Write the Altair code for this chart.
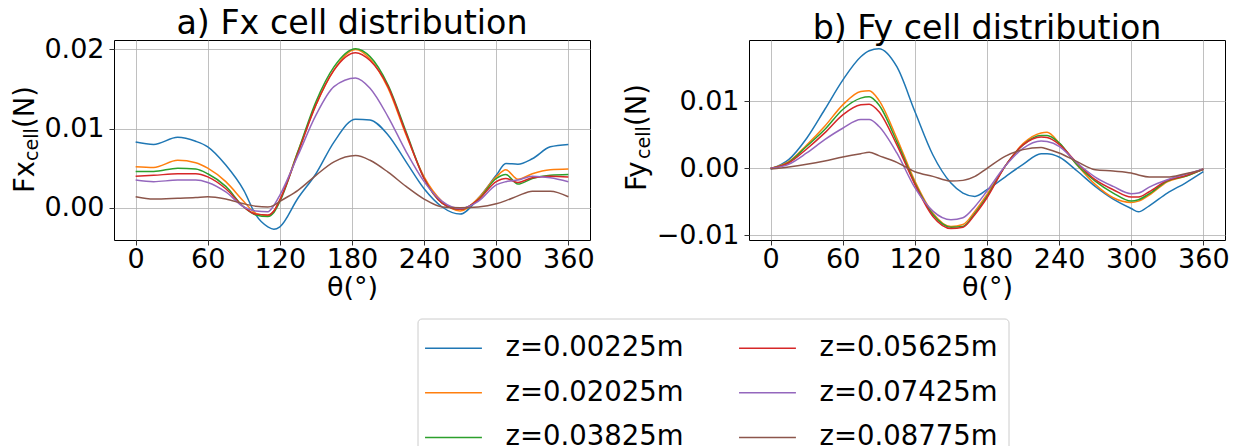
import altair as alt
import pandas as pd

labels = ["z=0.00225m", "z=0.02025m", "z=0.03825m", "z=0.05625m", "z=0.07425m", "z=0.08775m"]
colors = ["#1f77b4", "#ff7f0e", "#2ca02c", "#d62728", "#9467bd", "#8c564b"]

theta_fx = [0, 15, 35, 50, 60, 75, 90, 100, 110, 115, 120, 135, 150, 165, 183, 195, 210, 225, 240, 255, 270, 285, 300, 308, 318, 330, 345, 360]
fx_1 = [0.0083, 0.0080, 0.0089, 0.0084, 0.0077, 0.0054, 0.0022, -0.0009, -0.0024, -0.0027, -0.0024, 0.0012, 0.0043, 0.0083, 0.0112, 0.0111, 0.0092, 0.0058, 0.0024, 0.0001, -0.0008, 0.0012, 0.0041, 0.0056, 0.0055, 0.0062, 0.0077, 0.0080]
fx_2 = [0.0052, 0.0051, 0.0060, 0.0057, 0.0050, 0.0033, 0.0008, -0.0007, -0.0010, -0.0004, 0.0010, 0.0071, 0.0130, 0.0174, 0.0200, 0.0188, 0.0151, 0.0092, 0.0039, 0.0008, -0.0004, 0.0012, 0.0039, 0.0048, 0.0036, 0.0043, 0.0048, 0.0049]
fx_3 = [0.0046, 0.0046, 0.0050, 0.0049, 0.0043, 0.0027, 0.0001, -0.0009, -0.0011, -0.0006, 0.0008, 0.0071, 0.0134, 0.0178, 0.0201, 0.0191, 0.0155, 0.0096, 0.0037, 0.0006, -0.0002, 0.0010, 0.0037, 0.0042, 0.0030, 0.0037, 0.0041, 0.0042]
fx_4 = [0.0040, 0.0041, 0.0043, 0.0043, 0.0039, 0.0024, 0.0001, -0.0008, -0.0009, -0.0004, 0.0010, 0.0069, 0.0130, 0.0174, 0.0196, 0.0186, 0.0153, 0.0094, 0.0037, 0.0006, -0.0002, 0.0010, 0.0033, 0.0037, 0.0032, 0.0038, 0.0040, 0.0039]
fx_5 = [0.0035, 0.0033, 0.0035, 0.0035, 0.0032, 0.0020, 0.0001, -0.0004, -0.0005, 0.0003, 0.0016, 0.0066, 0.0117, 0.0153, 0.0164, 0.0151, 0.0115, 0.0071, 0.0033, 0.0008, -0.0001, 0.0008, 0.0029, 0.0033, 0.0035, 0.0040, 0.0038, 0.0033]
fx_6 = [0.0014, 0.0011, 0.0012, 0.0013, 0.0014, 0.0011, 0.0005, 0.0002, 0.0001, 0.0003, 0.0008, 0.0022, 0.0041, 0.0058, 0.0066, 0.0060, 0.0045, 0.0027, 0.0011, 0.0001, 0.0000, 0.0001, 0.0005, 0.0009, 0.0015, 0.0021, 0.0021, 0.0014]

theta_fy = [0, 15, 30, 45, 60, 75, 82, 90, 105, 120, 135, 150, 160, 170, 180, 195, 210, 225, 230, 240, 255, 270, 285, 300, 306, 315, 330, 345, 360]
fy_1 = [-0.0001, 0.0013, 0.0045, 0.0088, 0.0132, 0.0167, 0.0176, 0.0179, 0.0152, 0.0085, 0.0020, -0.0022, -0.0037, -0.0042, -0.0032, -0.0013, 0.0006, 0.0022, 0.0022, 0.0017, -0.0004, -0.0027, -0.0046, -0.0060, -0.0065, -0.0056, -0.0037, -0.0022, -0.0005]
fy_2 = [0.0000, 0.0010, 0.0035, 0.0063, 0.0095, 0.0115, 0.0116, 0.0102, 0.0045, -0.0019, -0.0067, -0.0087, -0.0084, -0.0064, -0.0039, 0.0003, 0.0037, 0.0053, 0.0054, 0.0038, 0.0005, -0.0024, -0.0044, -0.0051, -0.0049, -0.0040, -0.0020, -0.0012, -0.0001]
fy_3 = [0.0000, 0.0009, 0.0033, 0.0058, 0.0088, 0.0105, 0.0107, 0.0095, 0.0040, -0.0022, -0.0069, -0.0088, -0.0087, -0.0067, -0.0042, 0.0003, 0.0035, 0.0049, 0.0049, 0.0038, 0.0005, -0.0019, -0.0037, -0.0049, -0.0047, -0.0038, -0.0019, -0.0012, -0.0001]
fy_4 = [0.0000, 0.0008, 0.0029, 0.0053, 0.0080, 0.0095, 0.0096, 0.0085, 0.0035, -0.0024, -0.0072, -0.0090, -0.0088, -0.0069, -0.0044, 0.0003, 0.0035, 0.0047, 0.0046, 0.0036, 0.0008, -0.0017, -0.0032, -0.0043, -0.0043, -0.0035, -0.0018, -0.0011, -0.0001]
fy_5 = [0.0000, 0.0006, 0.0023, 0.0043, 0.0060, 0.0073, 0.0073, 0.0063, 0.0023, -0.0029, -0.0064, -0.0077, -0.0074, -0.0057, -0.0034, 0.0003, 0.0030, 0.0041, 0.0040, 0.0033, 0.0008, -0.0013, -0.0027, -0.0038, -0.0037, -0.0028, -0.0017, -0.0009, -0.0001]
fy_6 = [-0.0001, 0.0002, 0.0006, 0.0011, 0.0017, 0.0022, 0.0024, 0.0019, 0.0009, -0.0005, -0.0012, -0.0019, -0.0018, -0.0012, 0.0000, 0.0018, 0.0028, 0.0031, 0.0029, 0.0023, 0.0010, -0.0002, -0.0004, -0.0007, -0.0010, -0.0013, -0.0013, -0.0008, -0.0002]

x_ticks = [0, 60, 120, 180, 240, 300, 360]
fx_ticks = [0.0, 0.01, 0.02]
fy_ticks = [-0.01, 0.0, 0.01]

FONT = "DejaVu Sans"
W, H = 476, 200


def long_df(theta, series):
    rows = []
    for lab, vals in zip(labels, series):
        for t, v in zip(theta, vals):
            rows.append({"theta": t, "val": v, "z": lab})
    return pd.DataFrame(rows)


df_fx = long_df(theta_fx, [fx_1, fx_2, fx_3, fx_4, fx_5, fx_6])
df_fy = long_df(theta_fy, [fy_1, fy_2, fy_3, fy_4, fy_5, fy_6])

color = alt.Color(
    "z:N",
    scale=alt.Scale(domain=labels, range=colors),
    legend=alt.Legend(
        title=None, orient="none", legendX=303.5, legendY=278.5, columns=2,
        symbolType="M-1.22,0H1.94", symbolSize=1296, symbolStrokeWidth=1.5,
        labelFont=FONT, labelFontSize=27.5, labelColor="black", labelLimit=400,
        labelOffset=39.5, rowPadding=11.7, columnPadding=52, padding=10.5,
        strokeColor="#cccccc", fillColor="white", cornerRadius=4,
    ),
)


def ytitle(main, sub, bx, by):
    a = alt.Chart(pd.DataFrame({"t": [main]})).mark_text(
        angle=270, align="left", baseline="alphabetic", font=FONT, fontSize=27.5, color="black"
    ).encode(text="t:N", x=alt.value(bx), y=alt.value(by))
    b = alt.Chart(pd.DataFrame({"t": [sub]})).mark_text(
        angle=270, align="left", baseline="alphabetic", font=FONT, fontSize=19, color="black"
    ).encode(text="t:N", x=alt.value(bx + 4), y=alt.value(by - 32))
    c = alt.Chart(pd.DataFrame({"t": ["(N)"]})).mark_text(
        angle=270, align="left", baseline="alphabetic", font=FONT, fontSize=27.5, color="black"
    ).encode(text="t:N", x=alt.value(bx), y=alt.value(by - 65))
    return [a, b, c]


def panel(df, title, ydom, yticks, main, bx, by):
    lines = alt.Chart(df).mark_line(strokeWidth=1.5, interpolate="monotone").encode(
        x=alt.X("theta:Q", scale=alt.Scale(domain=[-18, 378], nice=False, zero=False),
                axis=alt.Axis(values=x_ticks, title="θ(°)", format="d")),
        y=alt.Y("val:Q", scale=alt.Scale(domain=ydom, nice=False, zero=False),
                axis=alt.Axis(values=yticks, format=".2f", title=None)),
        color=color,
    )
    return alt.layer(lines, *ytitle(main, "cell", bx, by)).properties(
        width=W, height=H,
        title=alt.TitleParams(title, fontSize=33.3, font=FONT, fontWeight="normal",
                              color="black", anchor="middle", baseline="alphabetic", offset=-32),
    )


left = panel(df_fx, "a) Fx cell distribution", [-0.00407, 0.0212], fx_ticks, "Fx", -80, 153)
right = panel(df_fy, "b) Fy cell distribution", [-0.01072, 0.0192], fy_ticks, "Fy", -103, 151)

chart = alt.hconcat(left, right, spacing=28).properties(
    padding={"left": 3, "top": -2, "right": 0, "bottom": 0},
    background="white",
).configure_view(
    stroke="black", strokeWidth=1
).configure_axis(
    grid=True, gridColor="#b0b0b0", gridWidth=0.8, domain=False,
    ticks=True, tickColor="black", tickSize=5, tickWidth=0.8,
    labelFont=FONT, labelFontSize=27, labelColor="black", labelPadding=5,
    titleFont=FONT, titleFontSize=27, titleFontWeight="normal", titleColor="black",
).configure_axisX(
    labelPadding=1, titlePadding=2,
)

chart.save("out.html", embed_options={"renderer": "svg", "actions": False})
